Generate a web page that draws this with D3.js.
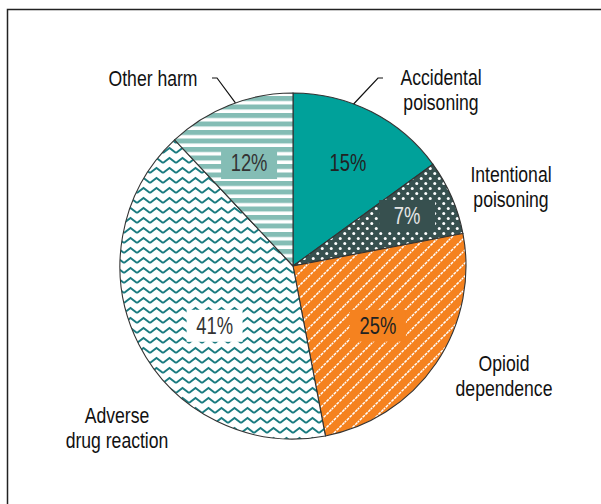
<!DOCTYPE html>
<html><head><meta charset="utf-8">
<script src="https://cdn.jsdelivr.net/npm/d3@7"></script>
<style>body{margin:0;background:#fff}svg{display:block}</style>
</head><body>
<script>
const categories = ["Accidental poisoning","Intentional poisoning","Opioid dependence","Adverse drug reaction","Other harm"];
const values = [15, 7, 25, 41, 12];
const pctLabels = ["15%","7%","25%","41%","12%"];

const W = 601, H = 504;
const cx = 293, cy = 266, R = 173;
const svg = d3.select("body").append("svg").attr("width", W).attr("height", H);
const defs = svg.append("defs");

// patterns
const pDots = defs.append("pattern").attr("id","dots").attr("patternUnits","userSpaceOnUse").attr("width",9).attr("height",10);
pDots.append("rect").attr("width",9).attr("height",10).attr("fill","#37504f");
pDots.append("circle").attr("cx",2.25).attr("cy",2.5).attr("r",1.5).attr("fill","#fff");
pDots.append("circle").attr("cx",6.75).attr("cy",7.5).attr("r",1.5).attr("fill","#fff");

const pDiag = defs.append("pattern").attr("id","diag").attr("patternUnits","userSpaceOnUse").attr("width",13).attr("height",13);
pDiag.append("rect").attr("width",13).attr("height",13).attr("fill","#f5821f");
pDiag.append("path").attr("d","M-1,14 L14,-1 M-7.5,7.5 L7.5,-7.5 M5.5,20.5 L20.5,5.5").attr("stroke","#fff").attr("stroke-width",1.5).attr("stroke-dasharray","3,1");

const pWave = defs.append("pattern").attr("id","wave").attr("patternUnits","userSpaceOnUse").attr("width",13).attr("height",10);
pWave.append("rect").attr("width",13).attr("height",10).attr("fill","#fff");
pWave.append("path").attr("d","M0,7 L6.5,2 L13,7").attr("fill","none").attr("stroke","#1a7b80").attr("stroke-width",1.8);

const pStripe = defs.append("pattern").attr("id","stripe").attr("patternUnits","userSpaceOnUse").attr("width",10).attr("height",8.5);
pStripe.append("rect").attr("width",10).attr("height",8.5).attr("fill","#fff");
pStripe.append("rect").attr("y",0).attr("width",10).attr("height",5).attr("fill","#84bdb5");

const fills = ["#00a19a","url(#dots)","url(#diag)","url(#wave)","url(#stripe)"];
const boxFills = [null,"#37504f","#f5821f","#fff","#84bdb5"];
const txtFills = ["#222","#e6e6e6","#222","#333","#333"];

const pie = d3.pie().sort(null).value(d => d)(values);
const arc = d3.arc().innerRadius(0).outerRadius(R);
const g = svg.append("g").attr("transform",`translate(${cx},${cy})`);

g.selectAll("path.slice").data(pie).join("path")
  .attr("class","slice")
  .attr("d", arc)
  .attr("fill", (d,i) => fills[i])
  .attr("stroke","#333").attr("stroke-width",1.1);

const font = "'Liberation Sans', Arial, sans-serif";
const SX = 0.8;
function scaledText(parent, x, y, lines, size, fill, lh) {
  const t = parent.append("g").attr("transform",`translate(${x},${y}) scale(${SX},1)`)
    .append("text").attr("font-family",font).attr("font-size",size).attr("fill",fill).attr("text-anchor","middle");
  lines.forEach((l,j) => t.append("tspan").attr("x",0).attr("y",j*(lh||0)).attr("dy","0.36em").text(l));
}

// percentage label placement: radius fraction and angle fraction within slice
const labR = [0.675, 0.72, 0.6, 0.57, 0.647];
const labA = [0.52, 0.49, 0.51, 0.43, 0.465];

pie.forEach((d,i) => {
  const a = d.startAngle + (d.endAngle - d.startAngle) * labA[i];
  const x = R*labR[i]*Math.sin(a), y = -R*labR[i]*Math.cos(a);
  if (boxFills[i]) {
    g.append("rect").attr("x",x-28).attr("y",y-16).attr("width",56).attr("height",32).attr("fill",boxFills[i]);
  }
  scaledText(g, x, y, [pctLabels[i]], 23, txtFills[i]);
});

// category labels
const catLines = [["Accidental","poisoning"],["Intentional","poisoning"],["Opioid","dependence"],["Adverse","drug reaction"],["Other harm"]];
const catPos = [[441,77],[511,174],[504,363],[117,415],[153,78]];
catLines.forEach((lines,i) => scaledText(svg, catPos[i][0], catPos[i][1], lines, 22, "#111", 25));

// leader lines
function edgePoint(angle){ return [cx + R*Math.sin(angle), cy - R*Math.cos(angle)]; }
const accEdge = edgePoint(pie[0].startAngle + (pie[0].endAngle - pie[0].startAngle)*0.38);
const othEdge = edgePoint(pie[4].startAngle + (pie[4].endAngle - pie[4].startAngle)*0.55);
svg.append("path").attr("d", d3.line()([[383,78],[378,78],accEdge])).attr("fill","none").attr("stroke","#111").attr("stroke-width",1.2);
svg.append("path").attr("d", d3.line()([[212,78],[217,78],othEdge])).attr("fill","none").attr("stroke","#111").attr("stroke-width",1.2);

// frame
svg.append("rect").attr("x",7.5).attr("y",9.5).attr("width",600).attr("height",520).attr("fill","none").attr("stroke","#222").attr("stroke-width",1.5);
</script>
</body></html>
